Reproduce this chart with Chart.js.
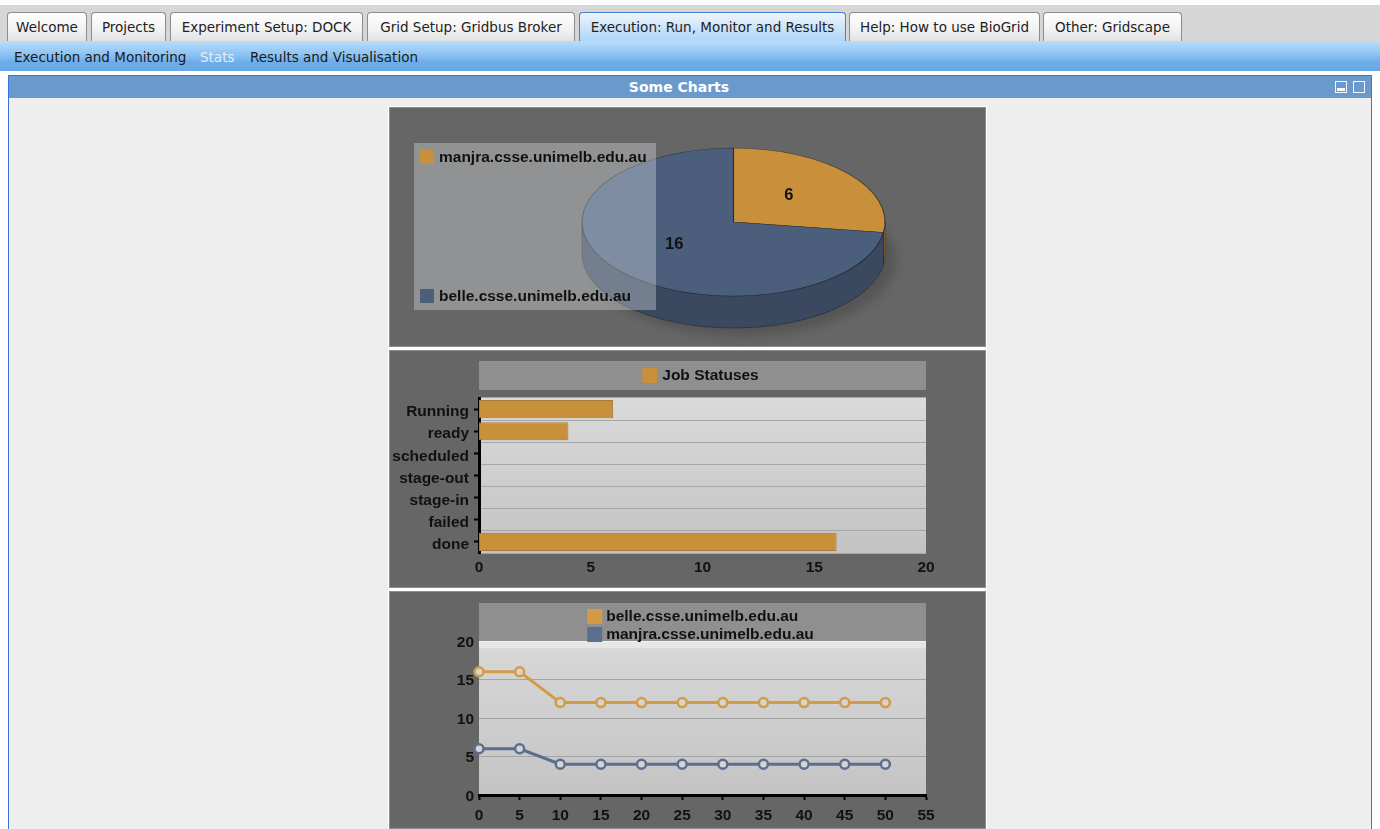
<!DOCTYPE html>
<html>
<head>
<meta charset="utf-8">
<script src="https://cdn.jsdelivr.net/npm/chart.js@4.4.1/dist/chart.umd.min.js"></script>
<style>
  html, body { margin: 0; padding: 0; }
  body { width: 1380px; height: 829px; overflow: hidden; background: #ffffff; position: relative;
         font-family: "DejaVu Sans", Verdana, sans-serif; font-size: 13.5px; }
  #tabbar { position: absolute; left: 0; top: 5px; width: 1380px; height: 36px; background: #d6d6d6; }
  .tab { position: absolute; top: 7px; height: 29px; box-sizing: border-box; border: 1px solid #8c8c8c; border-bottom: none;
         border-radius: 4px 4px 0 0; background: linear-gradient(#fefefe, #f2f2f2 60%, #e2e2e2);
         color: #222; text-align: center; line-height: 29px; white-space: nowrap; }
  .tab.active { height: 31px; border-color: #3f7fd6; background: linear-gradient(#eef6fd, #cfe5fa 45%, #a9d4f8); }
  #subnav { position: absolute; left: 0; top: 41px; width: 1380px; height: 30px;
            background: linear-gradient(#b9ddfb, #8cc3f2 45%, #6eade9 70%, #66a8e6); }
  #subnav span { position: absolute; top: 0; line-height: 33px; color: #1a1a1a; white-space: nowrap; }
  #panel { position: absolute; left: 8px; top: 75px; width: 1364px; height: 780px; box-sizing: border-box;
           border: 1px solid #3b74d8; background: #eeeeee; }
  #phead { position: absolute; left: 0; top: 0; width: 1362px; height: 22px; background: #6a9acc; }
  #phead .title { position: absolute; left: 0; width: 1340px; top: 0; line-height: 23px; text-align: center;
                  color: #ffffff; font-weight: bold; font-size: 14px; }
  .ico { position: absolute; top: 5px; width: 10px; height: 10px; border: 1.5px solid #f4f8fc; }
  #col { position: absolute; left: 388px; top: 106px; width: 599px; height: 723px; background: #ffffff; }
  .box { position: absolute; left: 389px; width: 597px; background: #666666; box-shadow: inset 0 0 0 1px #8d8d8d; }
  canvas { position: absolute; left: 0; top: 0; }
</style>
</head>
<body>
<div id="tabbar">
  <div class="tab" style="left:7px;width:80px;">Welcome</div>
  <div class="tab" style="left:91px;width:75px;">Projects</div>
  <div class="tab" style="left:170px;width:193px;">Experiment Setup: DOCK</div>
  <div class="tab" style="left:367px;width:208px;">Grid Setup: Gridbus Broker</div>
  <div class="tab active" style="left:579px;width:267px;">Execution: Run, Monitor and Results</div>
  <div class="tab" style="left:849px;width:191px;">Help: How to use BioGrid</div>
  <div class="tab" style="left:1043px;width:139px;">Other: Gridscape</div>
</div>
<div id="subnav">
  <span style="left:14px;">Execution and Monitoring</span>
  <span style="left:200px;color:#e3eefa;">Stats</span>
  <span style="left:250px;">Results and Visualisation</span>
</div>
<div id="panel">
  <div id="phead">
    <div class="title">Some Charts</div>
    <div class="ico" style="left:1326px;"><div style="position:absolute;left:1px;right:1px;bottom:1px;height:3px;background:#f4f8fc;"></div></div>
    <div class="ico" style="left:1344px;"></div>
  </div>
</div>
<div id="col"></div>
<div class="box" style="top:107px;height:240px;"><canvas id="pie" width="597" height="240"></canvas></div>
<div class="box" style="top:350px;height:238px;"><canvas id="bar" width="597" height="238"></canvas></div>
<div class="box" style="top:591px;height:238px;"><canvas id="line" width="597" height="238"></canvas></div>

<script>
// ---------- data ----------
const pieLabels = ['manjra.csse.unimelb.edu.au', 'belle.csse.unimelb.edu.au'];
const pieValues = [6, 16];

const statusLabels = ['Running', 'ready', 'scheduled', 'stage-out', 'stage-in', 'failed', 'done'];
const statusValues = [6, 4, 0, 0, 0, 0, 16];
const statusSeriesName = 'Job Statuses';

const timePoints = [0, 5, 10, 15, 20, 25, 30, 35, 40, 45, 50];
const belleName = 'belle.csse.unimelb.edu.au';
const belleSeries = [16, 16, 12, 12, 12, 12, 12, 12, 12, 12, 12];
const manjraName = 'manjra.csse.unimelb.edu.au';
const manjraSeries = [6, 6, 4, 4, 4, 4, 4, 4, 4, 4, 4];

const barTickStep = 5, barMax = 20;
const lineXMax = 55, lineYMax = 20, tickStep = 5;

// ---------- styles ----------
const ORANGE = '#c9903c';
const ORANGE_SIDE = '#9f7030';
const BLUE = '#4b5f7d';
const BLUE_SIDE = '#3a4960';
const LINE_ORANGE = '#d49b45';
const LINE_BLUE = '#5a6f90';
const FONT = '"Liberation Sans", Arial, Helvetica, sans-serif';
const LABEL_FONT = 'bold 15.5px ' + FONT;
const VALUE_FONT = 'bold 16.5px ' + FONT;

Chart.defaults.font.family = FONT;
Chart.defaults.font.size = 15.5;
Chart.defaults.font.weight = 'bold';
Chart.defaults.color = '#111111';

const common = { responsive: false, animation: false, events: [] };

// ---------- pie (3D look) ----------
const PIE_RX = 151.5, PIE_RY = 74, PIE_DEPTH = 32;
const pie3d = {
  id: 'pie3d',
  beforeDatasetsDraw(chart) {
    const ctx = chart.ctx;
    const arcs = chart.getDatasetMeta(0).data;
    const cx = arcs[0].x, cy = arcs[0].y, r = arcs[0].outerRadius;
    ctx.save();
    ctx.filter = 'blur(5px)';
    ctx.fillStyle = 'rgba(0,0,0,0.16)';
    ctx.beginPath();
    ctx.ellipse(cx + 9, cy + PIE_DEPTH + 6, PIE_RX + 2, PIE_RY + 2, 0, 0, Math.PI * 2);
    ctx.fill();
    ctx.restore();
    const sideColors = [ORANGE_SIDE, BLUE_SIDE];
    arcs.forEach((arc, i) => {
      const s = arc.startAngle, e = arc.endAngle;
      for (const k of [-2, 0, 2]) {
        const lo = Math.max(s, k * Math.PI), hi = Math.min(e, k * Math.PI + Math.PI);
        if (hi > lo) {
          ctx.beginPath();
          ctx.ellipse(cx, cy, PIE_RX, PIE_RY, 0, lo, hi);
          ctx.ellipse(cx, cy + PIE_DEPTH, PIE_RX, PIE_RY, 0, hi, lo, true);
          ctx.closePath();
          ctx.fillStyle = sideColors[i];
          ctx.fill();
          ctx.lineWidth = 0.8;
          ctx.strokeStyle = 'rgba(25,25,25,0.55)';
          ctx.stroke();
        }
      }
    });
    ctx.save();
    ctx.translate(cx, cy);
    ctx.scale(PIE_RX / r, PIE_RY / r);
    ctx.translate(-cx, -cy);
  },
  afterDatasetsDraw(chart) {
    const ctx = chart.ctx;
    ctx.restore();
    const arcs = chart.getDatasetMeta(0).data;
    const cx = arcs[0].x, cy = arcs[0].y, r = arcs[0].outerRadius;
    ctx.fillStyle = 'rgba(236,238,242,0.32)';
    ctx.fillRect(25, 36, 242, 167);
    ctx.font = LABEL_FONT;
    ctx.textBaseline = 'middle';
    ctx.textAlign = 'left';
    const rowsY = [50, 189];
    chart.data.labels.forEach((lab, i) => {
      ctx.fillStyle = chart.data.datasets[0].backgroundColor[i];
      ctx.fillRect(31, rowsY[i] - 7, 14, 14);
      ctx.fillStyle = '#111';
      ctx.fillText(lab, 50, rowsY[i] + 1);
    });
    ctx.font = VALUE_FONT;
    ctx.textAlign = 'center';
    arcs.forEach((arc, i) => {
      const p = arc.tooltipPosition();
      const x = cx + (p.x - cx) * PIE_RX / r;
      const y = cy + (p.y - cy) * PIE_RY / r;
      ctx.fillStyle = '#111';
      ctx.fillText(String(chart.data.datasets[0].data[i]), x - 2, y - 2);
    });
  }
};

new Chart(document.getElementById('pie'), {
  type: 'pie',
  data: {
    labels: pieLabels,
    datasets: [{
      data: pieValues,
      backgroundColor: [ORANGE, BLUE],
      borderColor: 'rgba(25,25,25,0.6)',
      borderWidth: 0.8,
      clip: false
    }]
  },
  options: Object.assign({}, common, {
    layout: { padding: { left: 234.5, right: 142.5, top: 5, bottom: 15 } },
    plugins: { legend: { display: false }, tooltip: { enabled: false } }
  }),
  plugins: [pie3d]
});

// ---------- horizontal bar ----------
const barDecor = {
  id: 'barDecor',
  beforeDraw(chart) {
    const { ctx, chartArea: a } = chart;
    ctx.fillStyle = '#8f8f8f';
    ctx.fillRect(a.left, 11, a.right - a.left, 29);
    const g = ctx.createLinearGradient(0, a.top, 0, a.bottom);
    g.addColorStop(0, '#dadada');
    g.addColorStop(1, '#c3c3c3');
    ctx.fillStyle = g;
    ctx.fillRect(a.left, a.top, a.right - a.left, a.bottom - a.top);
  },
  afterDraw(chart) {
    const { ctx, chartArea: a } = chart;
    const ds = chart.data.datasets[0];
    ctx.font = LABEL_FONT;
    const w = ctx.measureText(ds.label).width;
    const total = 15 + 5 + w;
    const x0 = (a.left + a.right) / 2 - total / 2 - 2;
    ctx.fillStyle = ds.backgroundColor;
    ctx.fillRect(x0, 18, 15, 15);
    ctx.fillStyle = '#111';
    ctx.textBaseline = 'middle';
    ctx.textAlign = 'left';
    ctx.fillText(ds.label, x0 + 20, 26);
  }
};

new Chart(document.getElementById('bar'), {
  type: 'bar',
  data: {
    labels: statusLabels,
    datasets: [{
      label: statusSeriesName,
      data: statusValues,
      backgroundColor: ORANGE,
      borderColor: '#a77a3a',
      borderWidth: 1,
      borderSkipped: false,
      barPercentage: 0.82,
      categoryPercentage: 1
    }]
  },
  options: Object.assign({}, common, {
    indexAxis: 'y',
    layout: { padding: { left: 0, right: 60, top: 48, bottom: 0 } },
    plugins: { legend: { display: false }, tooltip: { enabled: false } },
    scales: {
      x: {
        min: 0, max: barMax,
        ticks: { stepSize: barTickStep, padding: 5 },
        grid: { display: false, drawTicks: false },
        border: { display: false },
        afterFit(s) { s.height = 35; }
      },
      y: {
        grid: { offset: false, drawOnChartArea: false, drawTicks: true, tickLength: 5, tickColor: '#000', tickWidth: 2 },
        border: { color: '#000', width: 3 },
        ticks: { padding: 5, labelOffset: 3 },
        afterFit(s) { s.width = 90; }
      },
      yBands: {
        type: 'category', labels: statusLabels, position: 'right', offset: true,
        grid: { offset: true, color: '#a6a6a6', lineWidth: 1, drawTicks: false },
        ticks: { display: false },
        border: { display: false },
        afterFit(s) { s.width = 0; }
      }
    }
  }),
  plugins: [barDecor]
});

// ---------- line ----------
const lineDecor = {
  id: 'lineDecor',
  beforeDraw(chart) {
    const { ctx, chartArea: a } = chart;
    ctx.fillStyle = '#8f8f8f';
    ctx.fillRect(a.left, 12, a.right - a.left, a.top - 12);
    const g = ctx.createLinearGradient(0, a.top, 0, a.bottom);
    g.addColorStop(0, '#e6e6e6');
    g.addColorStop(0.045, '#e6e6e6');
    g.addColorStop(0.05, '#d7d7d7');
    g.addColorStop(1, '#c4c4c4');
    ctx.fillStyle = g;
    ctx.fillRect(a.left, a.top, a.right - a.left, a.bottom - a.top);
  },
  afterDraw(chart) {
    const { ctx, chartArea: a } = chart;
    ctx.font = LABEL_FONT;
    const sets = chart.data.datasets;
    const widths = sets.map(d => 15 + 4 + ctx.measureText(d.label).width);
    const x0 = (a.left + a.right) / 2 - Math.max(...widths) / 2 - 2;
    const rowsY = [25, 43];
    ctx.textBaseline = 'middle';
    ctx.textAlign = 'left';
    sets.forEach((d, i) => {
      ctx.fillStyle = d.borderColor;
      ctx.fillRect(x0, rowsY[i] - 7, 15, 15);
      ctx.fillStyle = '#111';
      ctx.fillText(d.label, x0 + 19, rowsY[i] + 1);
    });
  }
};

function seriesPoints(values) { return timePoints.map((t, i) => ({ x: t, y: values[i] })); }
function lineSet(label, values, color) {
  return {
    label, data: seriesPoints(values),
    borderColor: color, backgroundColor: color,
    borderWidth: 3, tension: 0, clip: false,
    pointRadius: 4.5, pointBorderWidth: 2.5,
    pointBackgroundColor: '#d4d4d4', pointBorderColor: color
  };
}

new Chart(document.getElementById('line'), {
  type: 'line',
  data: { datasets: [lineSet(belleName, belleSeries, LINE_ORANGE), lineSet(manjraName, manjraSeries, LINE_BLUE)] },
  options: Object.assign({}, common, {
    layout: { padding: { left: 0, right: 60, top: 50, bottom: 0 } },
    plugins: { legend: { display: false }, tooltip: { enabled: false } },
    scales: {
      x: {
        type: 'linear', min: 0, max: lineXMax,
        ticks: { stepSize: tickStep, padding: 6 },
        grid: { drawOnChartArea: false, drawTicks: true, tickLength: 5, tickColor: '#000', tickWidth: 2 },
        border: { color: '#000', width: 3 },
        afterFit(s) { s.height = 34; }
      },
      y: {
        min: 0, max: lineYMax,
        ticks: { stepSize: tickStep, padding: 5, labelOffset: 1.5 },
        grid: { drawTicks: false, color: (c) => (c.tick && c.tick.value === lineYMax) ? 'rgba(255,255,255,0.5)' : '#a4a4a4', lineWidth: 1 },
        border: { display: false },
        afterFit(s) { s.width = 90; }
      }
    }
  }),
  plugins: [lineDecor]
});
</script>
</body>
</html>
